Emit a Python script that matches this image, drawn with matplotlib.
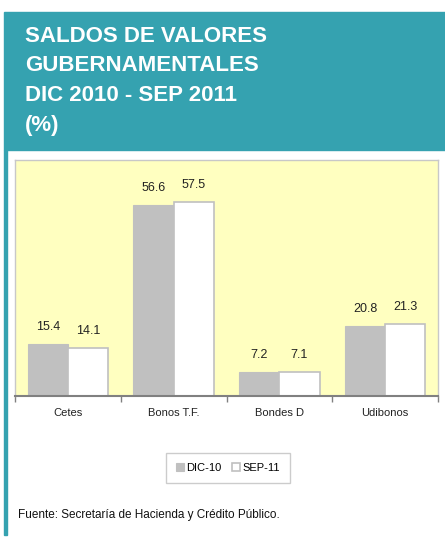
import numpy as np
import matplotlib.pyplot as plt
from matplotlib.patches import Rectangle

plt.rcParams['font.family'] = ['Liberation Sans', 'DejaVu Sans']

categories = ['Cetes', 'Bonos T.F.', 'Bondes D', 'Udibonos']
dic10 = [15.4, 56.6, 7.2, 20.8]
sep11 = [14.1, 57.5, 7.1, 21.3]
series_names = ['DIC-10', 'SEP-11']

W, H = 445, 539
fig = plt.figure(figsize=(W / 100, H / 100), dpi=100)
fig.patch.set_facecolor('white')

teal = '#35A2B0'
# header band
fig.patches.append(Rectangle((4 / W, 1 - 150 / H), 441 / W, 138 / H,
                             transform=fig.transFigure, color=teal, zorder=0))
# left border line
fig.patches.append(Rectangle((4 / W, 1 - 535 / H), 2.5 / W, 385 / H,
                             transform=fig.transFigure, color=teal, zorder=0))
title_lines = ['SALDOS DE VALORES', 'GUBERNAMENTALES', 'DIC 2010 - SEP 2011', '(%)']
for i, line in enumerate(title_lines):
    fig.text(25 / W, 1 - (36 + 29.7 * i) / H, line, color='white',
             fontsize=16, fontweight='bold', va='center', ha='left')

ax = fig.add_axes([15 / W, 1 - 396 / H, 423 / W, 236 / H])
ax.set_facecolor('#FFFFC0')

x = np.arange(len(categories))
bw = 0.38
b1 = ax.bar(x - bw / 2, dic10, bw, color='#C0C0C0', edgecolor='#C0C0C0',
            linewidth=0.8, label=series_names[0])
b2 = ax.bar(x + bw / 2, sep11, bw, color='white', edgecolor='#C0C0C0',
            linewidth=1.2, label=series_names[1])
for bars in (b1, b2):
    for r in bars:
        ax.annotate('%.1f' % r.get_height(),
                    (r.get_x() + r.get_width() / 2, r.get_height()),
                    xytext=(0, 8), textcoords='offset points',
                    ha='center', va='bottom', fontsize=9, color='#222222')

ax.set_xlim(-0.5, len(categories) - 0.5)
ax.set_ylim(0, 70)
ax.set_yticks([])
ax.set_xticks(x)
ax.set_xticklabels(categories, fontsize=8)
ax.set_xticks(np.arange(len(categories) + 1) - 0.5, minor=True)
ax.tick_params(axis='x', which='major', length=0, pad=9, colors='#222222')
ax.tick_params(axis='x', which='minor', length=4, color='#808080', width=1)
for s in ('top', 'left', 'right'):
    ax.spines[s].set_color('#C8C8C8')
    ax.spines[s].set_linewidth(1)
ax.spines['bottom'].set_color('#808080')
ax.spines['bottom'].set_linewidth(1.5)

leg = fig.legend(handles=[b1, b2], labels=series_names, loc='center',
                 bbox_to_anchor=(228 / W, 1 - 468 / H), ncol=2, fontsize=8,
                 frameon=True, fancybox=False, edgecolor='#C0C0C0',
                 handlelength=0.7, handleheight=0.7, handletextpad=0.2,
                 columnspacing=1.0, borderpad=0.9)
leg.get_frame().set_linewidth(1)

fig.text(18 / W, 1 - 515 / H, 'Fuente: Secretaría de Hacienda y Crédito Público.',
         fontsize=8.5, va='center', ha='left', color='#111111')

fig.savefig('out.png', dpi=100)
